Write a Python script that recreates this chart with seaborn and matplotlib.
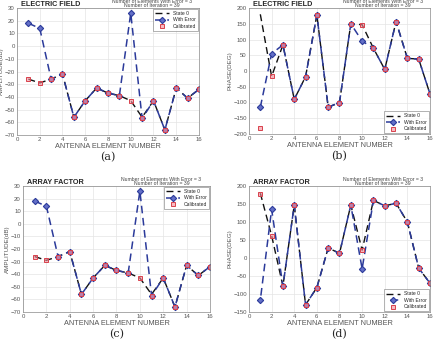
import numpy as np
import pandas as pd
import seaborn as sns
import matplotlib.pyplot as plt

# data
elements = list(range(1, 17))

ef_amp_state0 = [-26, -29, -26, -22, -56, -43, -33, -37, -39, -43, -56, -43, -66, -33, -41, -34]
ef_amp_error = [18, 14, -26, -22, -56, -43, -33, -37, -39, 26, -57, -43, -66, -33, -41, -34]
ef_amp_calib = [-26, -29, -26, -22, -56, -43, -33, -37, -39, -43, -57, -43, -66, -33, -41, -34]

ef_ph_state0 = [180, -17, 83, -90, -18, 178, -115, -100, 150, 147, 72, 5, 157, 40, 38, -73]
ef_ph_error = [-115, 55, 83, -90, -18, 178, -115, -100, 150, 95, 72, 5, 157, 40, 38, -73]
ef_ph_calib = [-180, -17, 83, -90, -18, 178, -115, -100, 150, 147, 72, 5, 157, 40, 38, -73]

af_amp_state0 = [-26, -29, -26, -22, -56, -43, -33, -37, -39, -43, -56, -43, -66, -33, -41, -34]
af_amp_error = [18, 14, -26, -22, -56, -43, -33, -37, -39, 26, -57, -43, -66, -33, -41, -34]
af_amp_calib = [-26, -29, -26, -22, -56, -43, -33, -37, -39, -43, -57, -43, -66, -33, -41, -34]

af_ph_state0 = [180, 62, -78, 147, -130, -82, 28, 13, 147, 22, 160, 145, 152, 100, -28, -70]
af_ph_error = [-117, 135, -78, 147, -130, -82, 28, 13, 147, -30, 160, 145, 152, 100, -28, -70]
af_ph_calib = [178, 62, -78, 147, -130, -82, 28, 13, 147, 22, 160, 145, 152, 100, -28, -70]

note = "Number of Elements With Error = 3\nNumber of Iteration = 39"

sns.set_theme(style="whitegrid")
plt.rcParams["font.family"] = ["Liberation Sans", "DejaVu Sans"]

fig = plt.figure(figsize=(4.35, 3.42), dpi=100)
W, H = 435, 342

# axes boxes in pixels (left, top, right, bottom)
boxes = [(17, 8, 199, 135), (249, 8, 430, 134), (23, 186, 210, 312), (249, 186, 430, 312)]
panels = [
    ("ELECTRIC FIELD", "AMPLITUDE(dB)", ef_amp_state0, ef_amp_error, ef_amp_calib, (-70, 30), 10, "upper right", "(a)", 0),
    ("ELECTRIC FIELD", "PHASE(DEG)", ef_ph_state0, ef_ph_error, ef_ph_calib, (-200, 200), 50, "lower right", "(b)", 0),
    ("ARRAY FACTOR", "AMPLITUDE(dB)", af_amp_state0, af_amp_error, af_amp_calib, (-70, 30), 10, "upper right", "(c)", 0),
    ("ARRAY FACTOR", "PHASE(DEG)", af_ph_state0, af_ph_error, af_ph_calib, (-150, 200), 50, "lower right", "(d)", 5),
]

navy = "#2b3a9a"
for (l, t, r, b), (title, ylab, s0, err, cal, ylim, ystep, loc, tag, off) in zip(boxes, panels):
    ax = fig.add_axes([l / W, 1 - b / H, (r - l) / W, (b - t) / H])
    df = pd.DataFrame({"n": elements, "s0": s0, "err": err, "cal": cal})
    sns.lineplot(data=df, x="n", y="s0", ax=ax, color="#111111", lw=1.0, label="State 0")
    ax.lines[-1].set_linestyle((0, (5, 3)))
    sns.lineplot(data=df, x="n", y="err", ax=ax, color=navy, lw=1.1,
                 marker="D", markersize=3.2, markerfacecolor="#6470c8", markeredgecolor=navy,
                 markeredgewidth=0.8, label="With Error")
    ax.lines[-1].set_linestyle((off, (5, 3)))
    ax.plot(df["n"], df["cal"], ls="none", marker="s", ms=3.2, mfc=(0.95, 0.55, 0.6, 0.6),
            mec="#d8414c", mew=0.7, label="Calibrated")

    ax.set_xlim(0, 16)
    ax.set_xticks(np.arange(0, 17, 2))
    ax.set_ylim(*ylim)
    ax.set_yticks(np.arange(ylim[0], ylim[1] + 1, ystep))
    ax.tick_params(labelsize=4.3, colors="#555555", length=0, pad=1.5)
    ax.grid(color="#e4e4e4", lw=0.5)
    for sp in ax.spines.values():
        sp.set_color("#888888")
        sp.set_linewidth(0.5)
    ax.set_xlabel("ANTENNA ELEMENT NUMBER", fontsize=5.3, color="#555555", labelpad=1)
    ax.set_ylabel(ylab, fontsize=4.5, color="#555555", labelpad=0.5)
    ax.text(0.02, 1.0, title, transform=ax.transAxes, fontsize=5.2, fontweight="bold",
            ha="left", va="bottom")
    ax.text(0.74, 1.0, note, transform=ax.transAxes, fontsize=3.7, color="#444444",
            ha="center", va="bottom", linespacing=0.85)

    h, lb = ax.get_legend_handles_labels()
    order = [lb.index("State 0"), lb.index("With Error"), lb.index("Calibrated")]
    leg = ax.legend([h[i] for i in order], [lb[i] for i in order], loc=loc, fontsize=3.6,
                    frameon=True, fancybox=False, borderpad=0.4, labelspacing=0.3,
                    handlelength=2.8, borderaxespad=0.15)
    leg.get_frame().set_edgecolor("#777777")
    leg.get_frame().set_linewidth(0.5)

    fig.text((l + r) / 2 / W, 1 - (b + 22) / H, tag, fontsize=8, family="DejaVu Serif",
             ha="center", va="center")

fig.savefig("out.png", dpi=100)
